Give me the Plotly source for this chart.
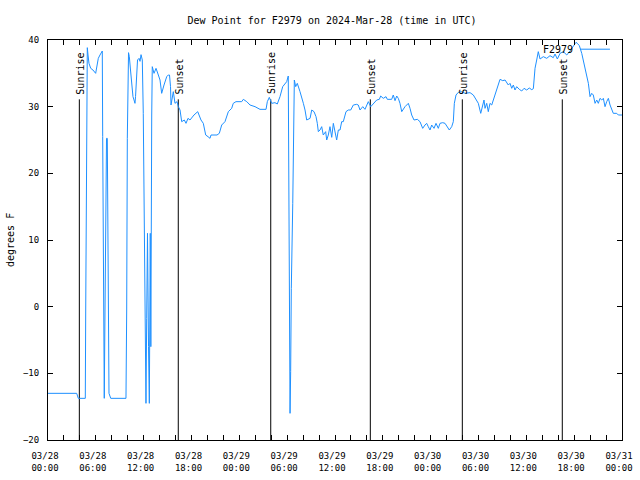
import pandas as pd
import plotly.graph_objects as go

# ---- data (hours after 2024-03-28 00:00 UTC, dew point in deg F) ----
hours = [0.00, 3.60, 3.80, 4.68, 4.73, 4.85, 4.93, 5.02, 5.14, 5.36, 5.64, 5.98, 6.31, 6.52, 6.81,
         6.86, 6.94, 7.06, 7.15, 7.34, 7.44, 7.53, 7.65, 7.87, 9.78, 9.87, 9.95, 10.10, 10.20,
         10.35, 10.54, 10.66, 10.79, 10.91, 10.98, 11.10, 11.23, 11.42, 11.54, 11.67, 11.83,
         11.95, 12.11, 12.21, 12.29, 12.38, 12.48, 12.61, 12.71, 12.83, 12.90, 13.01, 13.08,
         13.30, 13.55, 13.84, 14.05, 14.26, 14.43, 14.55, 14.89, 15.09, 15.24, 15.37, 15.43,
         15.62, 15.72, 15.93, 16.18, 16.35, 16.56, 16.77, 17.10, 17.31, 17.56, 17.81, 18.31,
         18.78, 18.94, 19.19, 19.48, 19.78, 20.07, 20.32, 20.45, 20.74, 21.20, 21.49, 21.79,
         22.20, 22.62, 23.04, 23.24, 23.58, 24.08, 24.30, 24.50, 24.93, 25.34, 25.97, 26.59,
         27.35, 27.51, 27.76, 28.06, 28.47, 28.76, 29.10, 29.44, 29.73, 29.94, 30.14, 30.23,
         30.31, 30.36, 30.44, 30.52, 30.70, 30.82, 30.90, 31.07, 31.27, 31.61, 31.82, 32.03,
         32.24, 32.45, 32.87, 33.08, 33.37, 33.62, 33.78, 33.91, 34.12, 34.33, 34.53, 34.83,
         34.96, 35.16, 35.37, 35.59, 35.79, 36.00, 36.21, 36.42, 36.63, 36.84, 37.04, 37.38,
         37.67, 37.97, 38.30, 38.72, 38.92, 39.14, 39.48, 39.76, 40.18, 40.48, 40.81, 41.02,
         41.23, 41.56, 41.73, 42.06, 42.40, 42.56, 43.11, 43.31, 43.53, 43.74, 43.94, 44.15,
         44.37, 44.78, 45.20, 45.41, 45.62, 45.91, 46.33, 46.66, 47.00, 47.29, 47.50, 47.70,
         47.92, 48.13, 48.42, 48.67, 48.96, 49.17, 49.51, 49.80, 50.09, 50.34, 50.64, 50.84,
         50.97, 51.18, 51.47, 51.89, 52.31, 52.94, 53.35, 53.69, 53.98, 54.28, 54.53, 54.69,
         54.82, 55.03, 55.23, 55.44, 55.66, 55.86, 56.07, 56.28, 56.49, 56.70, 57.04, 57.33,
         57.74, 57.95, 58.17, 58.37, 58.58, 58.79, 59.12, 59.42, 59.71, 60.05, 60.37, 60.68,
         60.88, 61.09, 61.30, 61.50, 61.72, 62.13, 62.56, 62.97, 63.38, 63.60, 63.89, 64.23,
         64.64, 65.07, 65.48, 65.69, 66.02, 66.23, 66.40, 66.65, 66.95, 67.15, 67.36, 67.57,
         67.78, 67.99, 68.20, 68.40, 68.62, 68.83, 69.03, 69.24, 69.46, 69.66, 69.87, 70.08,
         70.29, 70.50, 70.71, 70.91, 71.34, 71.54, 72.00]
dew_f = [-13.0, -13.0, -13.75, -13.75, -0.65, 25.75, 38.85, 37.75, 36.5, 35.75, 35.5, 35.0, 37.25,
         37.75, 38.35, 25.5, -0.65, -13.75, -0.5, 25.25, 25.25, -0.5, -13.0, -13.75, -13.75,
         -0.5, 25.25, 38.1, 37.5, 35.5, 33.0, 31.5, 31.0, 30.5, 31.5, 33.5, 37.0, 37.25, 36.8,
         37.8, 37.0, 29.0, 11.0, -6.0, -14.5, -1.75, 11.0, -6.0, -14.5, 11.0, -6.0, 28.75,
         36.0, 35.0, 35.75, 34.75, 34.0, 32.0, 33.0, 33.25, 34.5, 34.75, 34.75, 33.0, 30.25,
         31.5, 32.25, 30.5, 30.75, 30.0, 29.5, 27.75, 28.0, 27.5, 28.25, 28.0, 28.75, 29.25,
         28.75, 28.0, 27.5, 25.75, 25.5, 25.25, 25.75, 25.75, 25.75, 26.0, 27.25, 27.75, 29.25,
         29.75, 30.5, 30.75, 30.75, 30.75, 31.1, 30.75, 30.25, 30.0, 29.6, 29.6, 30.75, 31.4,
         30.5, 30.6, 30.4, 31.5, 33.0, 33.5, 33.75, 34.6, 9.25, -9.75, -16.0, -9.75, 2.75,
         15.5, 33.25, 34.0, 33.0, 33.5, 32.25, 31.5, 30.5, 29.5, 28.0, 28.25, 29.5, 29.25,
         28.5, 27.5, 26.25, 26.5, 27.0, 25.75, 26.25, 25.0, 25.75, 27.0, 25.4, 27.5, 26.25,
         25.0, 26.5, 26.5, 27.75, 27.75, 29.25, 29.5, 29.5, 30.25, 30.35, 30.25, 29.5, 30.0,
         29.6, 30.75, 30.0, 30.5, 30.75, 31.0, 31.1, 31.6, 31.25, 31.5, 31.1, 31.1, 31.75,
         30.9, 31.6, 31.25, 30.5, 29.25, 30.0, 30.5, 29.75, 28.75, 28.0, 28.1, 27.75, 26.75,
         27.25, 27.5, 27.0, 26.5, 27.25, 26.75, 27.5, 26.75, 27.5, 27.6, 27.5, 27.0, 26.5,
         27.0, 27.75, 30.5, 31.75, 32.15, 32.25, 32.0, 32.1, 31.75, 31.0, 30.5, 29.0, 30.25,
         31.0, 29.75, 30.5, 29.25, 30.5, 30.25, 31.0, 31.5, 32.5, 33.0, 34.1, 33.9, 34.0,
         33.25, 33.5, 32.75, 33.25, 32.5, 33.0, 32.6, 32.35, 32.75, 32.5, 32.8, 32.55, 32.7,
         35.75, 37.0, 38.25, 37.15, 37.5, 37.25, 37.65, 37.35, 37.9, 37.15, 38.0, 38.25,
         37.75, 38.35, 38.75, 39.25, 39.65, 39.5, 39.15, 38.0, 37.0, 36.0, 34.5, 33.5, 31.5,
         32.0, 31.75, 30.5, 31.0, 30.5, 31.25, 31.0, 31.25, 30.0, 30.75, 31.25, 30.25, 29.5,
         29.0, 29.0, 28.75, 28.75]

sun_events = ["Sunrise", "Sunset", "Sunrise", "Sunset", "Sunrise", "Sunset"]
sun_hours = [3.93, 16.34, 27.94, 40.43, 51.97, 64.51]
sun_line_top = 31.1

station = "F2979"
title_text = "Dew Point for F2979 on 2024-Mar-28 (time in UTC)"
y_label = "degrees F"

base = pd.Timestamp("2024-03-28 00:00")
times = base + pd.to_timedelta(hours, unit="h")
sun_times = base + pd.to_timedelta(sun_hours, unit="h")

tick_hours = list(range(0, 73, 2))
tick_vals = [base + pd.Timedelta(hours=h) for h in tick_hours]
tick_text = [(base + pd.Timedelta(hours=h)).strftime("%m/%d<br>%H:%M") if h % 6 == 0 else ""
             for h in tick_hours]

FONT = "DejaVu Sans Mono"
BLUE = "#1E90FF"

fig = go.Figure()

# sunrise / sunset vertical lines
sx, sy = [], []
for t in sun_times:
    sx += [t, t, None]
    sy += [-20, sun_line_top, None]
fig.add_trace(go.Scatter(x=sx, y=sy, mode="lines", line=dict(color="black", width=1),
                         hoverinfo="skip", showlegend=False))

fig.add_trace(go.Scatter(x=times, y=dew_f, mode="lines", name=station,
                         line=dict(color=BLUE, width=1), showlegend=False))

for name, t in zip(sun_events, sun_times):
    fig.add_annotation(x=t, y=sun_line_top, text=name, textangle=-90, showarrow=False,
                       xanchor="center", yanchor="bottom", yshift=3, xshift=1,
                       font=dict(family=FONT, size=10, color="black"))

# legend (gnuplot style: text then line sample)
fig.add_annotation(x=0.918, y=0.977, xref="paper", yref="paper", text=station,
                   showarrow=False, xanchor="right", yanchor="middle",
                   font=dict(family=FONT, size=10, color="black"))
fig.add_shape(type="line", xref="paper", yref="paper", x0=0.927, x1=0.979, y0=0.977, y1=0.977,
              line=dict(color=BLUE, width=1))

fig.add_annotation(x=0, y=0.5, xref="paper", yref="paper", text=y_label, textangle=-90,
                   showarrow=False, xanchor="center", yanchor="middle", xshift=-38,
                   font=dict(family=FONT, size=10, color="black"))

fig.update_layout(
    width=640, height=480,
    margin=dict(l=48, r=18, t=40, b=40, autoexpand=False),
    paper_bgcolor="white", plot_bgcolor="white",
    title=dict(text=title_text, x=332 / 640, y=1 - 20 / 480, xanchor="center",
               yanchor="middle", font=dict(family=FONT, size=10, color="black")),
    font=dict(family=FONT, size=9, color="black"),
    showlegend=False,
)
fig.update_xaxes(type="date", range=[base, base + pd.Timedelta(hours=72)],
                 tickvals=tick_vals, ticktext=tick_text, ticks="inside", ticklen=5,
                 tickcolor="black", showline=True, linecolor="black", linewidth=1,
                 mirror="allticks", showgrid=False, zeroline=False, automargin=False,
                 tickfont=dict(family=FONT, size=9), ticklabelstandoff=7, ticklabelshift=-3)
fig.update_yaxes(range=[-20, 40], tickvals=[-20, -10, 0, 10, 20, 30, 40],
                 ticks="inside", ticklen=5, tickcolor="black", showline=True,
                 linecolor="black", linewidth=1, mirror="allticks", showgrid=False,
                 zeroline=False, automargin=False, tickfont=dict(family=FONT, size=9),
                 ticklabelstandoff=6)

fig.write_html("out.html")
